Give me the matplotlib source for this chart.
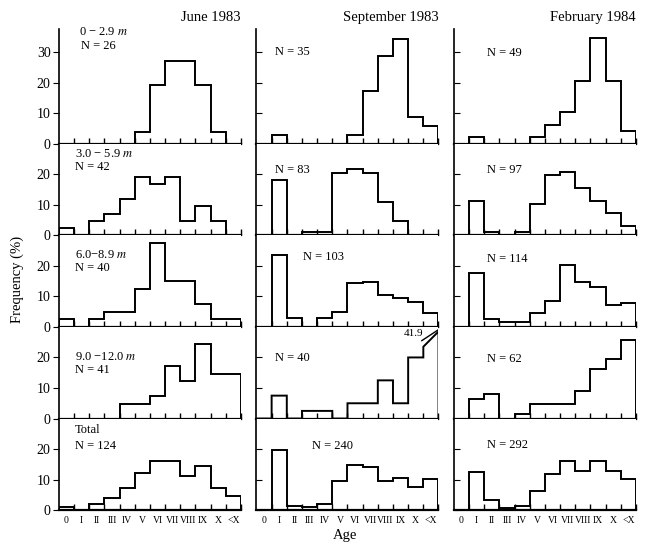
import numpy as np
import matplotlib
matplotlib.use("Agg")
import matplotlib.pyplot as plt

plt.rcParams['font.family'] = ['Liberation Serif', 'DejaVu Serif']
plt.rcParams['mathtext.fontset'] = 'stix'

# age classes
ages = ['0', 'I', 'II', 'III', 'IV', 'V', 'VI', 'VII', 'VIII', 'IX', 'X', '<X']
months = ['June 1983', 'September 1983', 'February 1984']
depths = ['0 − 2.9 $m$', '3.0 − 5.9 $m$', '6.0−8.9 $m$', '9.0 −12.0 $m$', 'Total']

# frequency (%) per age class, one list per month and depth
jun_d1 = [0, 0, 0, 0, 0, 3.8, 19.2, 26.9, 26.9, 19.2, 3.8, 0]
sep_d1 = [0, 2.9, 0, 0, 0, 0, 2.9, 17.1, 28.6, 34.3, 8.6, 5.7]
feb_d1 = [0, 2.0, 0, 0, 0, 2.0, 6.1, 10.2, 20.4, 34.7, 20.4, 4.1]

jun_d2 = [2.4, 0, 4.8, 7.1, 11.9, 19.0, 16.7, 19.0, 4.8, 9.5, 4.8, 0]
sep_d2 = [0, 18.1, 0, 1.2, 1.2, 20.5, 21.7, 20.5, 10.8, 4.8, 0, 0]
feb_d2 = [0, 11.3, 1.0, 0, 1.0, 10.3, 19.6, 20.6, 15.5, 11.3, 7.2, 3.1]

jun_d3 = [2.5, 0, 2.5, 5.0, 5.0, 12.5, 27.5, 15.0, 15.0, 7.5, 2.5, 2.5]
sep_d3 = [0, 23.5, 2.9, 0, 2.9, 4.9, 14.3, 14.8, 10.3, 9.3, 8.2, 4.5]
feb_d3 = [0, 17.5, 2.6, 1.6, 1.6, 4.4, 8.6, 20.2, 14.7, 13.1, 7.1, 7.7]

jun_d4 = [0, 0, 0, 0, 4.9, 4.9, 7.3, 17.1, 12.2, 24.4, 14.6, 14.6]
sep_d4 = [0, 7.5, 0, 2.5, 2.5, 0, 5.0, 5.0, 12.5, 5.0, 20.0, 41.9]
feb_d4 = [0, 6.5, 8.1, 0, 1.6, 4.8, 4.8, 4.8, 9.1, 16.1, 19.4, 25.8]

jun_tot = [1.2, 0, 2.0, 4.0, 7.3, 12.1, 16.1, 16.1, 11.3, 14.5, 7.3, 4.8]
sep_tot = [0, 19.7, 1.3, 1.0, 2.0, 9.4, 14.7, 14.2, 9.4, 10.6, 7.6, 10.2]
feb_tot = [0, 12.6, 3.3, 0.8, 1.3, 6.4, 11.9, 16.1, 12.8, 16.1, 12.8, 10.3]

n_jun = [26, 42, 40, 41, 124]
n_sep = [35, 83, 103, 40, 240]
n_feb = [49, 97, 114, 62, 292]

data = [[jun_d1, sep_d1, feb_d1],
        [jun_d2, sep_d2, feb_d2],
        [jun_d3, sep_d3, feb_d3],
        [jun_d4, sep_d4, feb_d4],
        [jun_tot, sep_tot, feb_tot]]
ns = [n_jun, n_sep, n_feb]

# label positions (axes fraction)
depth_y = [0.97, 0.89, 0.78, 0.67, 0.87]
nlab_pos = [[(0.12, 0.85), (0.088, 0.745), (0.088, 0.645), (0.088, 0.525), (0.088, 0.695)],
            [(0.104, 0.80), (0.104, 0.714), (0.257, 0.76), (0.104, 0.66), (0.306, 0.695)],
            [(0.18, 0.79), (0.18, 0.714), (0.18, 0.74), (0.18, 0.65), (0.18, 0.706)]]

fig = plt.figure(figsize=(6.55, 5.48), dpi=100)
gs = fig.add_gridspec(5, 3, height_ratios=[37.5, 30, 30, 30, 30],
                      left=0.090, right=0.971, top=0.947, bottom=0.069,
                      hspace=0, wspace=0.085)

edges = np.arange(len(ages) + 1)
for r in range(5):
    for c in range(3):
        ax = fig.add_subplot(gs[r, c])
        ytop = 37.5 if r == 0 else 30
        vals = np.array(data[r][c], dtype=float)
        broken = vals > ytop
        lo, hi = 23.5, 28.5
        shown = np.where(broken, lo, vals)
        xs = np.repeat(edges, 2)[1:-1]
        ys = np.repeat(shown, 2)
        xs = np.concatenate([[0], xs, [len(ages)]])
        ys = np.concatenate([[0], ys, [0]])
        if broken.any():
            i = int(np.argmax(broken))
            # slanted top for the broken bar
            ys[2 * i + 2] = hi
            ax.plot([i - 0.1, i + 1], [lo + 2.0, hi + 0.6], color='black', lw=1.0)
            ax.text(i, hi - 0.5, f"{vals[i]:.1f}", ha='right', va='center', fontsize=8)
        ax.plot(xs, ys, color='black', lw=1.4, solid_joinstyle='miter')

        ax.set_xlim(0, len(ages))
        ax.set_ylim(0, ytop)
        for s in ['top', 'right']:
            ax.spines[s].set_visible(False)
        ax.spines['bottom'].set_linewidth(1.6)
        ax.spines['left'].set_linewidth(1.2)

        ax.set_xticks(edges[1:])
        ax.set_xticklabels([])
        ax.tick_params(axis='x', which='major', direction='in', length=4, width=1)
        ax.set_xticks(edges[:-1] + 0.5, minor=True)
        if r == 4:
            ax.set_xticklabels(ages, minor=True, fontsize=7)
            ax.tick_params(axis='x', which='minor', length=0, pad=4)
        else:
            ax.tick_params(axis='x', which='minor', length=0, labelbottom=False)

        ax.set_yticks([0, 10, 20, 30] if r == 0 else [0, 10, 20])
        if c == 0:
            ax.tick_params(axis='y', direction='out', length=4, labelsize=10, pad=2)
        else:
            ax.tick_params(axis='y', direction='in', length=4, labelleft=False)

        nx, ny = nlab_pos[c][r]
        if c == 0:
            ax.text(0.088 if r else 0.11, depth_y[r], depths[r], transform=ax.transAxes,
                    ha='left', va='center', fontsize=9)
        ax.text(nx, ny, f"N = {ns[c][r]}", transform=ax.transAxes,
                ha='left', va='center', fontsize=9)
        if r == 0:
            ax.set_title(months[c], loc='right', fontsize=10.5, pad=6)

fig.text(0.027, 0.49, 'Frequency (%)', rotation=90, ha='center', va='center', fontsize=10.5)
fig.text(0.527, 0.022, 'Age', ha='center', va='center', fontsize=10.5)

fig.savefig('out.png', dpi=100)
